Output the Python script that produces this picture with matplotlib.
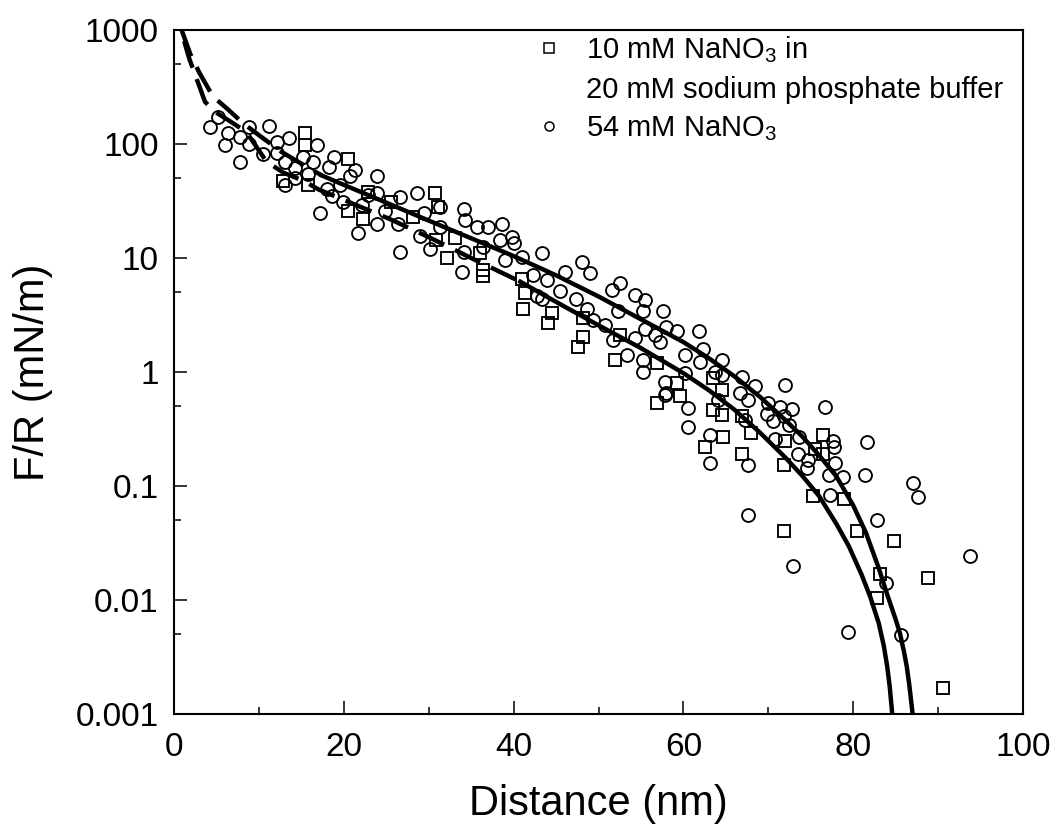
import matplotlib
matplotlib.use('Agg')
import matplotlib.pyplot as plt
from matplotlib.lines import Line2D

plt.rcParams['font.family'] = ['Liberation Sans', 'DejaVu Sans']
plt.rcParams['mathtext.fontset'] = 'custom'
plt.rcParams['mathtext.rm'] = 'Liberation Sans'
plt.rcParams['mathtext.it'] = 'Liberation Sans:italic'

# ---------------- data ----------------
# 54 mM NaNO3 (open circles)
circ_x = [4.2, 5.2, 6.4, 6.0, 7.8, 8.8, 8.8, 7.8, 11.2, 10.5, 12.1, 12.1, 13.6, 13.1, 14.3, 13.1,
          15.2, 16.8, 16.4, 15.8, 14.3, 18.8, 18.2, 18.0, 18.6, 17.2, 19.9, 20.7, 21.3, 19.6, 22.1,
          23.9, 23.9, 23.9, 21.7, 22.9,
          24.9, 26.6, 26.4, 26.6, 28.6, 29.0, 29.4, 30.2, 31.3, 31.3, 34.1, 34.3, 34.1, 33.9, 35.7,
          37.0, 36.4, 38.6, 38.4, 39.8, 40.0, 39.0, 41.0, 42.3, 43.3, 43.9, 42.7,
          48.0, 49.0, 46.1, 45.5, 47.4, 48.6, 49.4, 50.8, 51.7, 52.5, 51.6, 52.3, 54.3, 55.5, 55.3,
          54.3, 55.5, 53.3, 55.3, 55.3, 57.6, 58.0, 57.2, 59.2, 61.8, 60.2, 62.0, 62.3, 64.5, 64.5,
          57.8, 58.0, 60.2, 56.7, 43.3,
          63.7, 66.9, 68.4, 66.7, 64.1, 67.6, 70.0, 72.0, 71.4, 72.8, 69.8, 71.8, 70.6, 72.4, 67.3,
          76.7, 63.1, 70.8, 73.6, 77.6, 77.7, 73.5, 74.7, 77.9, 74.5, 78.8, 77.1, 63.1, 67.6, 77.3,
          57.8, 60.6, 60.6, 67.6,
          81.6, 81.4, 87.1, 87.6, 82.8, 93.8, 83.9, 79.4, 85.6, 72.9]
circ_y = [141, 174, 126, 98, 116, 142, 101, 70, 145, 81, 105, 83, 112, 70, 61, 44,
          77, 98, 70, 55, 50, 77, 63, 40, 35, 25, 31, 52, 59, 44, 29,
          52, 37, 20, 16.5, 36,
          26, 34.5, 20, 11.4, 37, 15.6, 24.7, 11.9, 28, 18.8, 27, 21.5, 11.4, 7.6, 18.8,
          18.8, 12.6, 20, 14.4, 15.4, 13.5, 9.6, 10.3, 7.1, 11, 6.4, 4.6,
          9.3, 7.4, 7.6, 5.1, 4.4, 3.6, 2.86, 2.6, 1.91, 6.0, 5.2, 3.4, 4.7, 4.3, 3.4,
          2.0, 2.4, 1.41, 1.27, 1.0, 3.4, 2.5, 1.85, 2.3, 2.3, 1.41, 1.23, 1.6, 1.27, 0.94,
          0.82, 0.65, 0.98, 2.1, 4.4,
          1.0, 0.91, 0.75, 0.65, 0.57, 0.57, 0.53, 0.77, 0.49, 0.47, 0.43, 0.41, 0.37, 0.34, 0.38,
          0.49, 0.28, 0.26, 0.27, 0.25, 0.22, 0.19, 0.17, 0.158, 0.143, 0.12, 0.125, 0.158, 0.153, 0.083,
          0.63, 0.48, 0.33, 0.056,
          0.244, 0.125, 0.106, 0.08, 0.05, 0.0243, 0.014, 0.0052, 0.0049, 0.02]

# 10 mM NaNO3 in 20 mM sodium phosphate buffer (open squares)
sq_x = [15.4, 15.4, 20.5, 12.8, 15.8, 20.5, 22.3, 22.9,
        30.7, 31.1, 30.9, 32.2, 33.1, 36.4, 36.4, 41.0, 41.3, 41.1, 44.5, 44.1, 25.6, 28.2, 36.0,
        48.2, 47.6, 51.9, 56.9, 56.9, 59.2, 59.6, 63.5, 48.2, 52.5, 64.5,
        63.5, 64.5, 66.9, 64.7, 62.5, 68.0, 66.9, 72.0, 71.8, 76.5, 75.5, 76.5, 75.3,
        71.8, 78.9, 80.4, 84.8, 83.2, 82.8, 88.8, 90.6]
sq_y = [126, 98, 74, 47, 44, 26, 22, 38,
        37, 28, 14.4, 9.9, 14.9, 7.9, 6.9, 6.6, 4.9, 3.6, 3.3, 2.7, 31, 23, 11,
        2.04, 1.67, 1.27, 1.19, 0.53, 0.8, 0.61, 0.88, 3.0, 2.1, 0.7,
        0.46, 0.42, 0.41, 0.27, 0.22, 0.29, 0.19, 0.25, 0.153, 0.28, 0.21, 0.19, 0.081,
        0.040, 0.077, 0.04, 0.033, 0.0169, 0.0104, 0.0157, 0.0017]

# fitted curves (solid)
fit_circ_x = [17.4, 20, 25, 30, 35, 40, 45, 50, 55, 60, 63, 66, 69, 72, 74, 76, 78, 80,
              81.5, 83, 84, 85, 85.5, 86, 86.3, 86.6, 87.0, 87.3]
fit_circ_y = [53, 43.8, 30.6, 21.3, 14.9, 10.4, 7.05, 4.6, 2.9, 1.83, 1.32, 0.918, 0.607,
              0.379, 0.272, 0.185, 0.122, 0.0676, 0.0389, 0.0191, 0.0112, 0.00676, 0.00513,
              0.00347, 0.00263, 0.00182, 0.001, 0.0004]
fit_sq_x = [40.8, 45, 50, 55, 60, 63, 66, 69, 72, 74, 76, 78, 79.5, 81, 82, 83, 83.6, 84.0,
            84.3, 84.6, 84.9]
fit_sq_y = [6.19, 4.12, 2.57, 1.62, 0.977, 0.692, 0.468, 0.295, 0.178, 0.123, 0.0813, 0.0468,
            0.0295, 0.0166, 0.0107, 0.0063, 0.00398, 0.00263, 0.00174, 0.001, 0.0004]

# short-range curves (dashed)
dash_circ_x = [0.9, 1.9, 3.0, 4.6, 6.2, 8.1, 10.1, 12.7, 14.6, 17.4]
dash_circ_y = [1000, 620, 420, 260, 206, 153, 118, 85, 70, 53]
dash_sq_x = [1.2, 1.8, 3.65, 4.8, 6.5, 8.5, 10.9, 12.9, 15.4, 17.0, 25.4, 30.2, 35.0, 40.8]
dash_sq_y = [800, 560, 235, 192, 160, 128, 70, 56, 47, 40, 22, 15, 10, 6.2]

x_ticks = [0, 20, 40, 60, 80, 100]
x_minor = [10, 30, 50, 70, 90]
y_ticks = [0.001, 0.01, 0.1, 1, 10, 100, 1000]
y_ticklabels = ['0.001', '0.01', '0.1', '1', '10', '100', '1000']
y_minor = [0.005, 0.05, 0.5, 5, 50, 500]

legend_labels = ['10 mM NaNO$_3$ in', '20 mM sodium phosphate buffer', '54 mM NaNO$_3$']

# ---------------- plot ----------------
W, H = 1059, 832
fig = plt.figure(figsize=(W / 100, H / 100), dpi=100)
ax = fig.add_axes([174 / W, 1 - 714 / H, (1023 - 174) / W, (714 - 30) / H])
ax.set_yscale('log')

ax.plot(sq_x, sq_y, ls='none', marker='s', ms=8, mfc='none', mec='black', mew=1.35, zorder=2)
ax.plot(circ_x, circ_y, ls='none', marker='o', ms=9.3, mfc='none', mec='black', mew=1.35, zorder=2)

ax.plot(fit_circ_x, fit_circ_y, color='black', lw=3.2, zorder=3)
ax.plot(fit_sq_x, fit_sq_y, color='black', lw=3.2, zorder=3)
ax.plot(dash_circ_x, dash_circ_y, color='black', lw=3.2, dashes=(6.3, 2.7), zorder=3)
ax.plot(dash_sq_x, dash_sq_y, color='black', lw=3.2, dashes=(6.3, 2.7), zorder=3)

ax.set_xlim(0, 100)
ax.set_ylim(1e-3, 1e3)
ax.set_xticks(x_ticks)
ax.set_xticks(x_minor, minor=True)
ax.set_yticks(y_ticks)
ax.set_yticklabels(y_ticklabels)
ax.set_yticks(y_minor, minor=True)
ax.yaxis.set_minor_formatter(matplotlib.ticker.NullFormatter())
ax.tick_params(which='both', direction='in', top=False, right=False, width=1.1,
               labelsize=24)
ax.tick_params(axis='x', which='both', pad=13)
ax.tick_params(axis='y', which='both', pad=11)
ax.tick_params(which='major', length=9.5)
ax.tick_params(which='minor', length=5)
for s in ax.spines.values():
    s.set_linewidth(1.5)

ax.set_xlabel('Distance (nm)', fontsize=30, labelpad=15)
ax.set_ylabel('F/R (mN/m)', fontsize=30, labelpad=16)

handles = [Line2D([], [], ls='none', marker='s', ms=6.5, mfc='none', mec='black', mew=1.1),
           Line2D([], [], ls='none', marker=None),
           Line2D([], [], ls='none', marker='o', ms=6.5, mfc='none', mec='black', mew=1.1)]
leg = ax.legend(handles, legend_labels, loc='upper left', bbox_to_anchor=(520 / W, 1 - 20 / H),
                bbox_transform=fig.transFigure, frameon=False, fontsize=21,
                handlelength=1.0, handletextpad=0.75, labelspacing=0.35, borderpad=0)

fig.savefig('out.png', dpi=100)
